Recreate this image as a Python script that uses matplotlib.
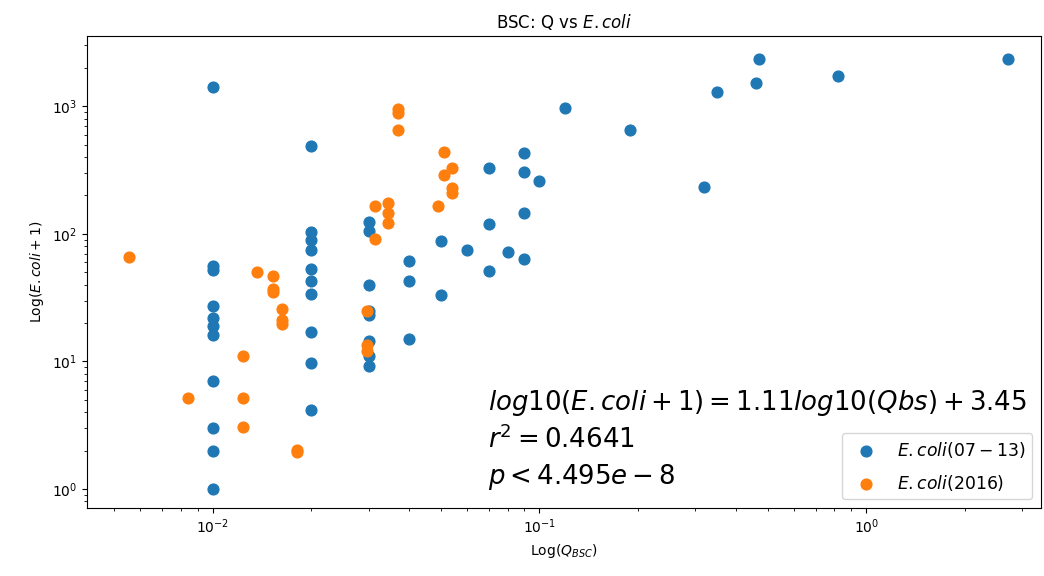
import matplotlib
matplotlib.use("Agg")
import matplotlib.pyplot as plt

# Q (m3/s) and E.coli+1 counts, 2007-2013 sampling
q_0713 = [0.01, 0.01, 0.01, 0.01, 0.01, 0.01, 0.01, 0.01, 0.01, 0.01, 0.01,
          0.02, 0.02, 0.02, 0.02, 0.02, 0.02, 0.02, 0.02, 0.02, 0.02,
          0.03, 0.03, 0.03, 0.03, 0.03, 0.03, 0.03, 0.03,
          0.04, 0.04, 0.04,
          0.05, 0.05,
          0.06,
          0.07, 0.07, 0.07,
          0.08,
          0.09, 0.09, 0.09, 0.09,
          0.1,
          0.12, 0.19, 0.32, 0.35, 0.46, 0.47, 0.82, 2.72]
ecoli_0713 = [1420, 56, 52, 27, 22, 19, 16, 7, 3, 2, 1,
              490, 104, 90, 75, 53, 43, 33.5, 17, 9.8, 4.2,
              124, 106, 40, 25, 23, 14.5, 11, 9.2,
              61, 43, 15,
              88, 33,
              75,
              326, 119, 51,
              72,
              432, 306, 145, 64,
              260,
              975, 650, 231, 1300, 1515, 2345, 1725, 2345]

# 2016 sampling
q_2016 = [0.00555, 0.00842, 0.0124, 0.0124, 0.0124, 0.0137,
          0.0153, 0.0153, 0.0153, 0.0163, 0.0163, 0.0163, 0.01815, 0.01815,
          0.0296, 0.0296, 0.0296, 0.0314, 0.0315,
          0.0343, 0.0343, 0.0343, 0.0368, 0.0368, 0.0368,
          0.0488, 0.0511, 0.0511, 0.0539, 0.0539, 0.0539]
ecoli_2016 = [66, 5.2, 11.1, 5.2, 3.06, 50,
              47, 37, 35, 26, 21, 19.5, 2.02, 1.95,
              24.8, 13.5, 12, 165, 90.4,
              173, 145, 121, 950, 880, 650,
              165, 435, 289, 326, 228, 210]

fit_lines = ["$log10(E.coli+1) = 1.11log10(Qbs)+3.45$",
             "$r^2 = 0.4641$",
             "$p < 4.495e-8$"]

fig, ax = plt.subplots(figsize=(10.44, 5.76), dpi=100)
fig.subplots_adjust(left=0.083, right=0.997, top=0.9375, bottom=0.118)

ax.scatter(q_0713, ecoli_0713, s=60, label="$E.coli(07-13)$")
ax.scatter(q_2016, ecoli_2016, s=60, label="$E.coli(2016)$")
ax.set_xscale("log")
ax.set_yscale("log")
ax.set_xlim(0.004115, 3.425)
ax.set_ylim(0.71, 3554)

ax.set_title("BSC: Q vs $E.coli$")
ax.set_xlabel("Log($Q_{BSC}$)")
ax.set_ylabel("Log($E.coli+1$)")

# one text per line, stacked from the top line down
for i, line in enumerate(fit_lines):
    ax.text(0.421, 0.223 - i * 0.079, line, transform=ax.transAxes,
            fontsize=18.7, ha="left", va="center")

ax.legend(loc="lower right", fontsize=12.4, labelspacing=0.75)

fig.savefig("out.png", dpi=100)
